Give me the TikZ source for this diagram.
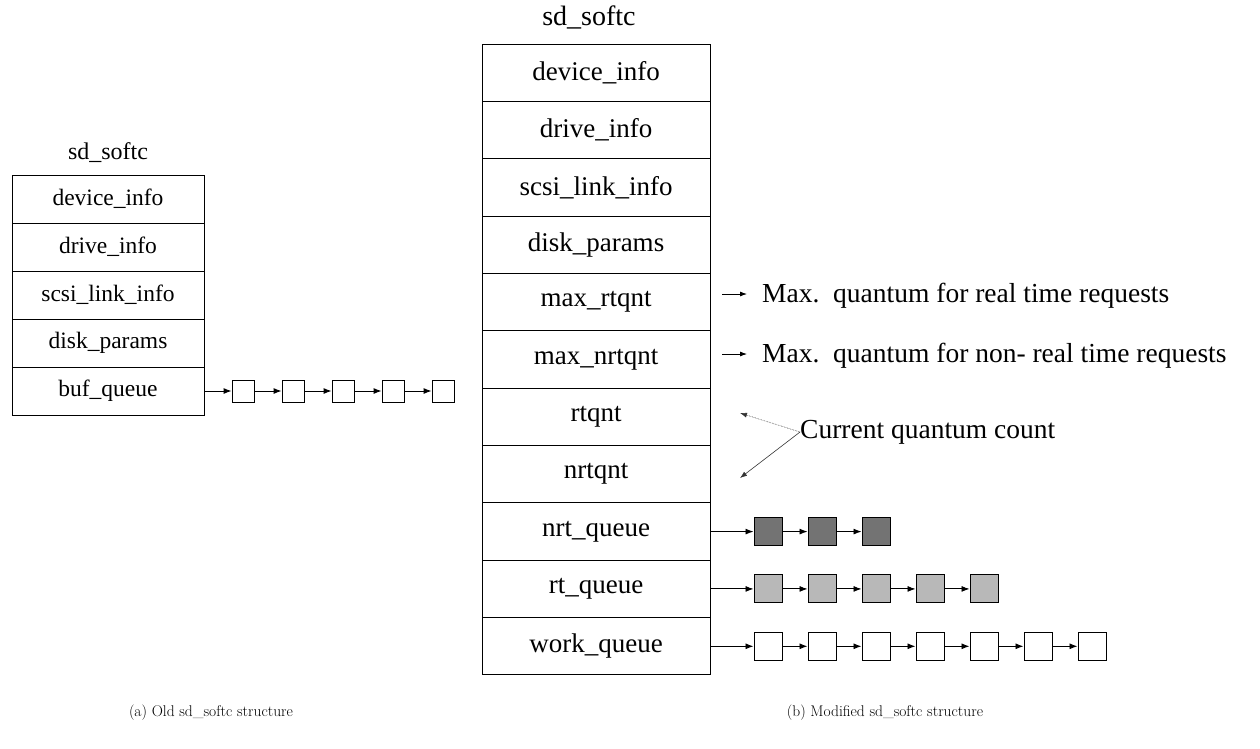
\documentclass[tikz,border=0pt]{standalone}
\usepackage{fontspec}
\newfontfamily\tms{Liberation Serif}
\usetikzlibrary{arrows.meta}
\begin{document}
\begin{tikzpicture}[x=1pt,y=-1pt,
  every node/.style={inner sep=0pt},
  lcell/.style={draw, line width=1pt, minimum width=192pt, minimum height=48pt,
    font=\tms\fontsize{23.5}{26}\selectfont},
  rcell/.style={draw, line width=1pt, minimum width=228pt, minimum height=57.36pt,
    font=\tms\fontsize{27}{30}\selectfont},
  ltitle/.style={font=\tms\fontsize{24}{26}\selectfont},
  rtitle/.style={font=\tms\fontsize{28}{30}\selectfont},
  note/.style={anchor=west, font=\tms\fontsize{27.5}{30}\selectfont},
  caption/.style={font=\fontsize{15.5}{18}\selectfont},
  qsmall/.style={draw, line width=0.9pt, minimum size=22pt},
  qbig/.style={draw, line width=1pt, minimum size=28pt},
  qdark/.style={qbig, fill=black!55},
  qlight/.style={qbig, fill=black!28},
  qwhite/.style={qbig, fill=white},
  link/.style={line width=0.9pt, -{Latex[length=8pt,width=6pt]}},
  shortlink/.style={line width=0.8pt, -{Latex[length=7pt,width=5pt]}},
  pointer/.style={line width=0.6pt, black!80, -{Latex[length=7pt,width=5pt]}},
]
\useasboundingbox (0,0) rectangle (1260,748);

% ---- old structure ----
\node[ltitle] (ltop) at (108,153) {sd\_softc};
\node[lcell] (l1) at (108,199) {device\_info};
\node[lcell] (l2) at (108,247) {drive\_info};
\node[lcell] (l3) at (108,295) {scsi\_link\_info};
\node[lcell] (l4) at (108,343) {disk\_params};
\node[lcell] (l5) at (108,391) {buf\_queue};

\foreach \i in {1,...,5} {
  \node[qsmall] (b\i) at ({193+50*\i},391) {};
}
\draw[link] (l5.east) -- (b1.west);
\foreach \i [evaluate=\i as \j using int(\i+1)] in {1,...,4} {
  \draw[link] (b\i.east) -- (b\j.west);
}

% ---- modified structure ----
\node[rtitle] (rtop) at (589,17) {sd\_softc};
\node[rcell] (r1)  at (596,72.68)  {device\_info};
\node[rcell] (r2)  at (596,130.04) {drive\_info};
\node[rcell] (r3)  at (596,187.40) {scsi\_link\_info};
\node[rcell] (r4)  at (596,244.76) {disk\_params};
\node[rcell] (r5)  at (596,302.12) {max\_rtqnt};
\node[rcell] (r6)  at (596,359.48) {max\_nrtqnt};
\node[rcell] (r7)  at (596,416.84) {rtqnt};
\node[rcell] (r8)  at (596,474.20) {nrtqnt};
\node[rcell] (r9)  at (596,531.56) {nrt\_queue};
\node[rcell] (r10) at (596,588.92) {rt\_queue};
\node[rcell] (r11) at (596,646.28) {work\_queue};

% notes on the quantum fields
\node[note] (n1) at (762,296) {Max.\ \ quantum for real time requests};
\node[note] (n2) at (762,356) {Max.\ \ quantum for non- real time requests};
\coordinate (p1) at (722,294);
\coordinate (p1e) at (747,294);
\coordinate (p2) at (722,354);
\coordinate (p2e) at (747,354);
\draw[shortlink] (p1) -- (p1e);
\draw[shortlink] (p2) -- (p2e);

\node[note] (n3) at (800,432) {Current quantum count};
\coordinate (up) at (740,413);
\coordinate (dn) at (740,478);
\draw[pointer, densely dotted] (n3.west) -- (up);
\draw[pointer] (n3.west) -- (dn);

% queues
\foreach \i in {1,...,3} { \node[qdark]  (d\i) at ({714+54*\i},531.56) {}; }
\foreach \i in {1,...,5} { \node[qlight] (g\i) at ({714+54*\i},588.92) {}; }
\foreach \i in {1,...,7} { \node[qwhite] (w\i) at ({714+54*\i},646.28) {}; }
\draw[link] (r9.east)  -- (d1.west);
\draw[link] (r10.east) -- (g1.west);
\draw[link] (r11.east) -- (w1.west);
\foreach \i [evaluate=\i as \j using int(\i+1)] in {1,2} { \draw[link] (d\i.east) -- (d\j.west); }
\foreach \i [evaluate=\i as \j using int(\i+1)] in {1,...,4} { \draw[link] (g\i.east) -- (g\j.west); }
\foreach \i [evaluate=\i as \j using int(\i+1)] in {1,...,6} { \draw[link] (w\i.east) -- (w\j.west); }

% captions
\node[caption] (ca) at (211,713) {(a) Old sd\_softc structure};
\node[caption] (cb) at (885,713) {(b) Modified sd\_softc structure};
\end{tikzpicture}
\end{document}
